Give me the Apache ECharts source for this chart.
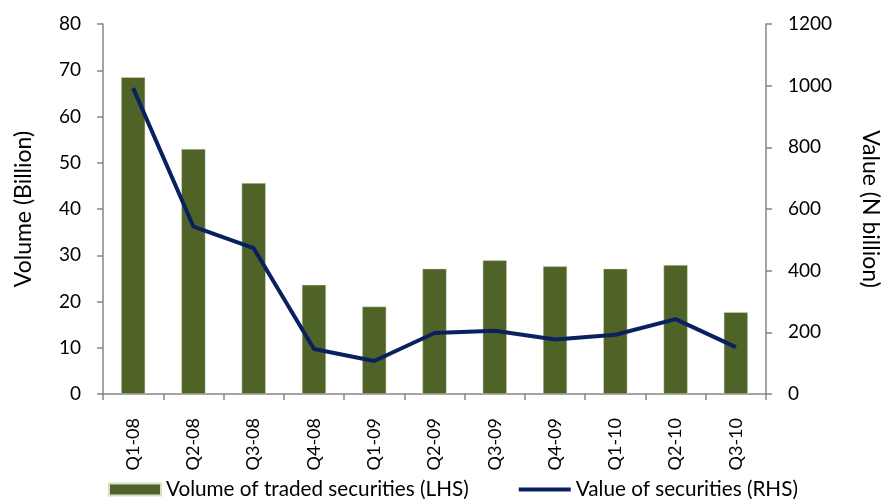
<!DOCTYPE html>
<html><head><meta charset="utf-8">
<script src="https://cdn.jsdelivr.net/npm/echarts@6/dist/echarts.min.js"></script>
<style>html,body{margin:0;padding:0;background:#fff}#c{width:883px;height:501px}</style>
</head><body><div id="c"></div>
<script>
const categories = ['Q1-08','Q2-08','Q3-08','Q4-08','Q1-09','Q2-09','Q3-09','Q4-09','Q1-10','Q2-10','Q3-10'];
const volume = [68.5, 53.0, 45.6, 23.6, 18.9, 27.1, 28.9, 27.6, 27.1, 27.9, 17.7];
const value = [992, 543, 473, 146, 107, 198, 205, 177, 192, 243, 152];
const volumeTicks = [0, 80, 10];
const valueTicks = [0, 1200, 200];
const FONT = 'Lato';
const axisColor = '#868686';
const chart = echarts.init(document.getElementById('c'), null, {renderer:'canvas'});
chart.setOption({
  animation: false,
  textStyle: {fontFamily: FONT, color: '#000'},
  grid: {left: 103, right: 117, top: 24, bottom: 107, containLabel: false, outerBoundsMode: 'none'},
  legend: {
    top: 479, left: 108, itemGap: 50, itemWidth: 52, itemHeight: 12, padding: 0,
    textStyle: {fontFamily: FONT, fontSize: 20.7, color: '#000'},
    data: [
      {name: 'Volume of traded securities (LHS)', icon: 'rect'},
      {name: 'Value of securities (RHS)', icon: 'path://M0,0 M0,4 L52,4 L52,8 L0,8 Z M52,12'}
    ]
  },
  xAxis: {
    type: 'category', data: categories, boundaryGap: true,
    axisLine: {lineStyle: {color: axisColor, width: 1.5}},
    axisTick: {show: true, length: 6, lineStyle: {color: axisColor, width: 1.5}},
    axisLabel: {rotate: 90, margin: 24, fontSize: 18, color: '#000', fontFamily: FONT}
  },
  yAxis: [
    {
      type: 'value', min: volumeTicks[0], max: volumeTicks[1], interval: volumeTicks[2],
      name: 'Volume (Billion)', nameLocation: 'middle', nameGap: 68,
      nameTextStyle: {fontSize: 23, color: '#000', fontFamily: FONT},
      axisLine: {show: true, lineStyle: {color: axisColor, width: 1.5}},
      axisTick: {show: true, length: 6, lineStyle: {color: axisColor, width: 1.5}},
      axisLabel: {margin: 22, fontSize: 19, color: '#000', fontFamily: FONT},
      splitLine: {show: false}
    },
    {
      type: 'value', min: valueTicks[0], max: valueTicks[1], interval: valueTicks[2], position: 'right',
      name: 'Value (N billion)', nameLocation: 'middle', nameGap: 93, nameRotate: -90,
      nameTextStyle: {fontSize: 23, color: '#000', fontFamily: FONT},
      axisLine: {show: true, lineStyle: {color: axisColor, width: 1.5}},
      axisTick: {show: true, length: 6, lineStyle: {color: axisColor, width: 1.5}},
      axisLabel: {margin: 22, fontSize: 19, color: '#000', fontFamily: FONT, formatter: v => String(v)},
      splitLine: {show: false}
    }
  ],
  series: [
    {
      name: 'Volume of traded securities (LHS)', type: 'bar', yAxisIndex: 0, data: volume,
      barWidth: '40%',
      itemStyle: {color: '#4F6228', borderColor: '#D7E0C4', borderWidth: 0.5}
    },
    {
      name: 'Value of securities (RHS)', type: 'line', yAxisIndex: 1, data: value,
      symbol: 'none', lineStyle: {color: '#0A2160', width: 4},
      itemStyle: {color: '#0A2160'}
    }
  ]
});
</script></body></html>
